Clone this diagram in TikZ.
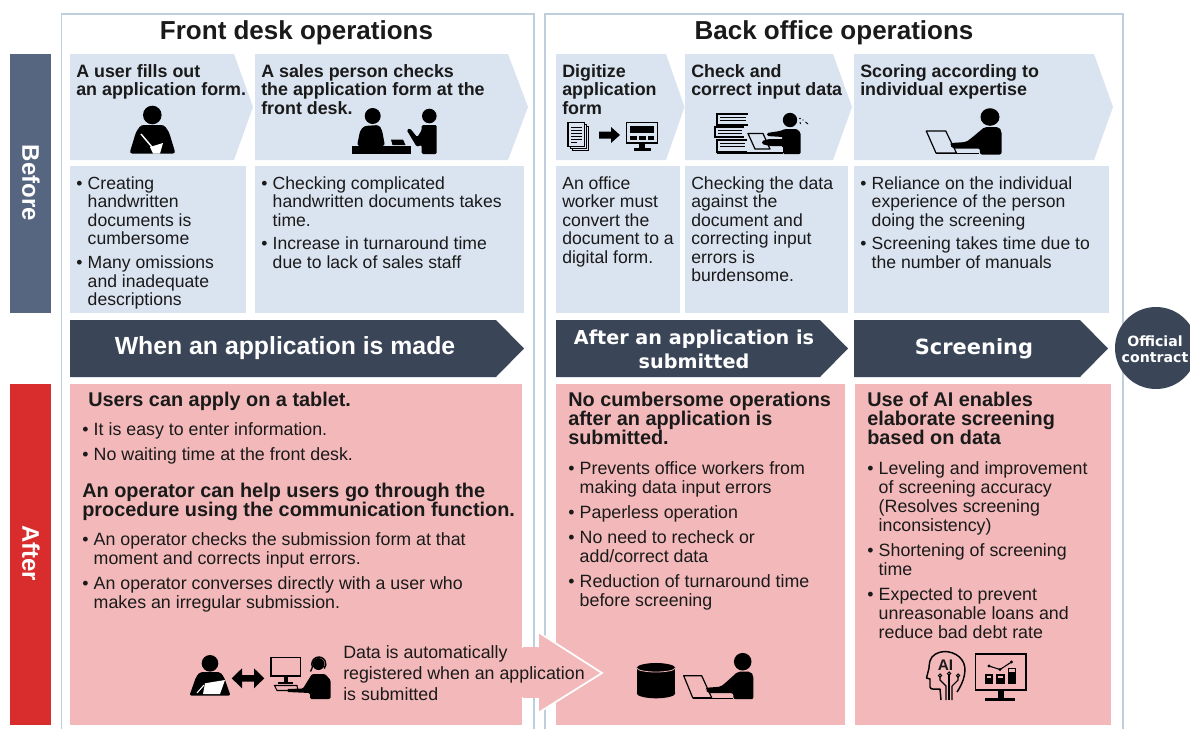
\documentclass[tikz,border=0pt]{standalone}
\usepackage{fontspec}
\setmainfont{Liberation Sans}
\newfontfamily\bandfont{DejaVu Sans}
\usetikzlibrary{arrows.meta}
\setlength{\lineskiplimit}{-6pt}
\setlength{\lineskip}{0pt}
\definecolor{panelline}{HTML}{BFCEDC}
\definecolor{lightblue}{HTML}{DAE3F0}
\definecolor{pinkpanel}{HTML}{F3B9BA}
\definecolor{darkband}{HTML}{3A4658}
\definecolor{sidegray}{HTML}{566580}
\definecolor{sidered}{HTML}{D92C2C}
\definecolor{inktext}{HTML}{1A1A1A}
\newlength{\bulind}\setlength{\bulind}{8.6pt}
\newcommand{\bl}[1]{\strut\makebox[\bulind][l]{•}#1}
\newcommand{\cl}[1]{\strut\hspace*{\bulind}#1}
\newcommand{\pl}[1]{\strut #1}
\newcommand{\laptopman}[4]{%
 \begin{scope}[shift={(#1,#2)},xscale=#3,yscale=#4]
  \fill (0,0) circle[radius=8.8];
  \fill[rounded corners=1.5] (-5,10)--(8,10)--(10.7,14)--(10.7,37.5)--(-9.3,37.5)--(-9.3,31.5)--(-35,31.5)--(-37,27.5)--(-36,26)--(-22,25)--(-16,20)--cycle;
  \draw[line width=.9pt,line join=round] (-59,14)--(-41,14)--(-31,36)--(-50,36)--cycle;
  \draw[line width=.9pt] (-50,36.5)--(-10,36.5);
 \end{scope}}
\tikzset{
 panel/.style={draw=panelline,line width=.8pt,fill=white},
 bluebox/.style={fill=lightblue},
 pinkbox/.style={fill=pinkpanel},
 bandshape/.style={fill=darkband},
 tb/.style={anchor=north west,inner sep=0pt,align=left,text=inktext,font=\fontsize{13.2}{13.9}\selectfont},
 tbb/.style={tb,font=\fontsize{13.4}{13.9}\selectfont\bfseries},
 ta/.style={tb,font=\fontsize{13.35}{14.2}\selectfont},
 tab/.style={tb,font=\fontsize{14.9}{14.2}\selectfont\bfseries},
 heading/.style={inner sep=0pt,font=\fontsize{19.5}{20}\selectfont\bfseries,text=inktext},
 bandtext/.style={inner sep=0pt,align=center,text=white,font=\fontsize{18.6}{18}\selectfont\bfseries},
 bandalt/.style={bandtext,font=\bandfont\fontsize{14.4}{18}\selectfont\bfseries},
 sidetext/.style={inner sep=0pt,rotate=-90,text=white,font=\fontsize{18}{18}\selectfont\bfseries},
}
\begin{document}
\begin{tikzpicture}[x=0.75pt,y=-0.75pt]
\useasboundingbox (0,0) rectangle (1190,729);
\fill[white] (0,0) rectangle (1190,729);
\begin{scope}
\clip (0,0) rectangle (1190,729);
% panels
\draw[panel] (61.5,14) rectangle (534,735);
\draw[panel] (545,14) rectangle (1123,735);
\node[heading] (h1) at (296.5,33) {Front desk operations};
\node[heading] (h2) at (834,33) {Back office operations};
% side bars
\fill[sidegray] (10,54) rectangle (51,313);
\fill[sidered] (10,384) rectangle (51,725);
\node[sidetext] (sb) at (31,183) {Before};
\node[sidetext] (sa) at (31,553) {After};
% chevrons
\fill[bluebox] (70,54)--(234,54)--(253,107)--(234,160)--(70,160)--cycle;
\fill[bluebox] (255,54)--(508,54)--(528,107)--(508,160)--(255,160)--cycle;
\fill[bluebox] (556,54)--(666,54)--(684.5,107)--(666,160)--(556,160)--cycle;
\fill[bluebox] (685,54)--(833,54)--(852,107)--(833,160)--(685,160)--cycle;
\fill[bluebox] (854,54)--(1094,54)--(1113,107)--(1094,160)--(854,160)--cycle;
\node[tbb] (c1) at (76,64) {\pl{A user fills out}\\\pl{an application form.}};
\node[tbb] (c2) at (261,64) {\pl{A sales person checks}\\\pl{the application form at the}\\\pl{front desk.}};
\node[tbb] (c3) at (562,64) {\pl{Digitize}\\\pl{application}\\\pl{form}};
\node[tbb] (c4) at (691,64) {\pl{Check and}\\\pl{correct input data}};
\node[tbb] (c5) at (860,64) {\pl{Scoring according to}\\\pl{individual expertise}};
% before boxes
\fill[bluebox] (70,166) rectangle (246,313);
\fill[bluebox] (255,166) rectangle (524,313);
\fill[bluebox] (556,166) rectangle (680,313);
\fill[bluebox] (685,166) rectangle (848,313);
\fill[bluebox] (854,166) rectangle (1109,313);
\node[tb] (b1) at (76,176) {\bl{Creating}\\\cl{handwritten}\\\cl{documents is}\\\cl{cumbersome}\\[3.9pt]\bl{Many omissions}\\\cl{and inadequate}\\\cl{descriptions}};
\node[tb] (b2) at (261,176) {\bl{Checking complicated}\\\cl{handwritten documents takes}\\\cl{time.}\\[3.6pt]\bl{Increase in turnaround time}\\\cl{due to lack of sales staff}};
\node[tb] (b3) at (562,176) {\pl{An office}\\\pl{worker must}\\\pl{convert the}\\\pl{document to a}\\\pl{digital form.}};
\node[tb] (b4) at (691,176) {\pl{Checking the data}\\\pl{against the}\\\pl{document and}\\\pl{correcting input}\\\pl{errors is}\\\pl{burdensome.}};
\node[tb] (b5) at (860,176) {\bl{Reliance on the individual}\\\cl{experience of the person}\\\cl{doing the screening}\\[3.6pt]\bl{Screening takes time due to}\\\cl{the number of manuals}};
% bands
\fill[bandshape] (70,320)--(496,320)--(524,348.5)--(496,377)--(70,377)--cycle;
\fill[bandshape] (556,320)--(820,320)--(848,348.5)--(820,377)--(556,377)--cycle;
\fill[bandshape] (854,320)--(1080,320)--(1108,348.5)--(1080,377)--(854,377)--cycle;
\node[bandtext] (w1) at (285,348) {When an application is made};
\node[bandalt] (w2) at (694,349) {After an application is\\submitted};
\node[bandalt,font=\bandfont\fontsize{15.7}{18}\selectfont\bfseries] (w3) at (974,348.5) {Screening};
\fill[darkband] (1156,348) circle[radius=41];
\node[bandalt,font=\bandfont\fontsize{10.6}{12.4}\selectfont\bfseries] (off) at (1155,349) {Official\\contract};
% pink panels
\fill[pinkbox] (70,384) rectangle (522,725);
\fill[pinkbox] (556,384) rectangle (845,725);
\fill[pinkbox] (855,384) rectangle (1111,725);
% big arrow
\fill[pinkbox] (523,647) rectangle (540,698);
\draw[white,line width=1.3pt,fill=pinkpanel,line join=miter] (538,647)--(538,632)--(602,673)--(538,713)--(538,698);
\fill[pinkbox] (520,647.6) rectangle (538.6,697.4);
% after text
\node[tab] (a1) at (88,392) {\pl{Users can apply on a tablet.}};
\node[ta] (a2) at (82,422) {\bl{It is easy to enter information.}\\[4.4pt]\bl{No waiting time at the front desk.}};
\node[tab] (a3) at (82,483) {\pl{An operator can help users go through the}\\\pl{procedure using the communication function.}};
\node[ta] (a4) at (82,532) {\bl{An operator checks the submission form at that}\\\cl{moment and corrects input errors.}\\[4.6pt]\bl{An operator converses directly with a user who}\\\cl{makes an irregular submission.}};
\node[ta] (a5) at (343,645) {\pl{Data is automatically}\\[1.5pt]\pl{registered when an application}\\[1.5pt]\pl{is submitted}};
\node[tab] (m1) at (568,392) {\pl{No cumbersome operations}\\\pl{after an application is}\\\pl{submitted.}};
\node[ta] (m2) at (568,461) {\bl{Prevents office workers from}\\\cl{making data input errors}\\[4.6pt]\bl{Paperless operation}\\[4.6pt]\bl{No need to recheck or}\\\cl{add/correct data}\\[4.6pt]\bl{Reduction of turnaround time}\\\cl{before screening}};
\node[tab] (r1) at (867,392) {\pl{Use of AI enables}\\\pl{elaborate screening}\\\pl{based on data}};
\node[ta] (r2) at (867,461) {\bl{Leveling and improvement}\\\cl{of screening accuracy}\\\cl{(Resolves screening}\\\cl{inconsistency)}\\[4.6pt]\bl{Shortening of screening}\\\cl{time}\\[4.6pt]\bl{Expected to prevent}\\\cl{unreasonable loans and}\\\cl{reduce bad debt rate}};
% --- icons ---
% user writing
\fill (152.3,115) circle[radius=9.3];
\fill[rounded corners=2] (141,125)--(164,125)--(169,132)--(175.5,153.5)--(129.5,153.5)--(136,132)--cycle;
\draw[white,line width=1.1pt] (141,134)--(152,147);
\fill[white] (150,147)--(163,143)--(160,153.5)--(153,153.5)--cycle;
% sales person
\fill (372.7,116) circle[radius=8];
\fill[rounded corners=2] (357,146)--(360,131)--(364,126)--(379,125)--(382,130)--(385,146)--cycle;
\fill (352.3,146) rectangle (410.7,154);
\fill (391,139.5)--(403,139.5)--(405.5,145)--(392.5,145)--cycle;
\fill (429.3,116) circle[radius=7.3];
\fill[rounded corners=1] (421.7,125)--(436.7,125)--(436.7,154)--(421.7,154)--(421.7,145)--(416.7,146.7)--(406.7,130)--(410,128.3)--(417.3,137.3)--(421.7,130)--cycle;
% digitize
\draw[line width=.7pt,fill=lightblue] (572,126) rectangle (588,150);
\draw[line width=.7pt,fill=lightblue] (570,124.5) rectangle (586,148);
\draw[line width=.8pt,fill=lightblue] (568,122.7) rectangle (584.5,146.5);
\foreach \yy in {127,130,133,136,139} \draw[line width=.7pt] (571,\yy)--(581.5,\yy);
\draw[line width=.7pt] (571,142)--(577,142);
\fill (599,131.5)--(611,131.5)--(611,127)--(620,135)--(611,143)--(611,138.5)--(599,138.5)--cycle;
\draw[line width=1.3pt] (626.5,122.5) rectangle (657.5,143);
\fill (630,125.5) rectangle (654,133);
\fill (630,135.5) rectangle (637,140);
\fill (639,135.5) rectangle (645.5,140);
\fill (647.5,135.5) rectangle (654,140);
\fill (639,143) rectangle (645,148);
\fill (634,148) rectangle (651,151);
% check & correct
\foreach \ya/\xa/\xb/\yb in {114/717/748/125,127/715/744/137,140/717/747/152}{
 \draw[line width=1pt] (\xb,\ya)--(\xa,\ya)--(\xa,\yb)--(\xb,\yb);
 \draw[line width=1pt] (\xa+3,\ya+3.5)--(\xb-2,\ya+3.5);
 \draw[line width=1pt] (\xa+3,\ya+6.5)--(\xb-2,\ya+6.5);
}
\draw[line width=.9pt,fill=lightblue,line join=round] (748,133.5)--(763,133.5)--(770,149)--(755,149)--cycle;
\draw[line width=1.2pt] (717,152.8)--(783,152.8);
\fill (790,120) circle[radius=7.2];
\fill[rounded corners=1] (785,129)--(797,129)--(800.7,133)--(800.7,154)--(783,154)--(783,146)--(770,146)--(762,144)--(762,141)--(769,139)--(783,139)--(783,137)--(767,136)--(767,133)--(780,131)--cycle;
\fill (800,118.5) circle[radius=.8];
\fill (803,120) circle[radius=.6];
\draw[line width=.7pt] (805.5,122)--(808,124);
\draw[line width=.7pt] (800,122)--(800.5,124);
% scoring
\laptopman{990}{117}{1.08}{1}
% front-left person
\fill (210,663.3) circle[radius=8.3];
\fill[rounded corners=1.5] (200,672)--(220,672)--(224,677)--(230.5,695.5)--(189.5,695.5)--(196,677)--cycle;
\fill[white] (205,683.3)--(225,680)--(220,694)--(203,694)--cycle;
\draw[white,line width=.8pt] (197,693)--(204,685);
% double arrow
\fill (231.7,678.3)--(242,668.3)--(242,675)--(254,675)--(254,668.3)--(264.3,678.3)--(254,688.3)--(254,681.6)--(242,681.6)--(242,688.3)--cycle;
% operator monitor
\draw[line width=1.1pt] (271,657.6) rectangle (300.5,676);
\fill (284,676) rectangle (287.5,681.7);
\fill (278,681.7) rectangle (293,683.5);
\draw[line width=.8pt,fill=pinkpanel] (274.5,685.5)--(297,685.5)--(298,690.5)--(277,690.5)--cycle;
\fill (318.5,664) circle[radius=6];
\draw[line width=1.1pt] (312.5,667) arc[start angle=-205,end angle=40,radius=7];
\draw[line width=1pt] (313,666)--(310.5,671.5);
\fill[rounded corners=1] (312,674)--(325,674)--(330.5,680)--(330.5,699)--(310,699)--(310,693)--(287,692)--(287,689)--(303,688.5)--(307,682)--cycle;
% db
\fill (636.7,668) rectangle (675.3,693);
\fill (656,668) ellipse[x radius=19.3,y radius=5];
\fill (656,693.3) ellipse[x radius=19.3,y radius=5];
\draw[pinkpanel,line width=.6pt] (636.9,668) arc[start angle=180,end angle=0,x radius=19.1,y radius=4];
\laptopman{742.7}{661.7}{1}{1}
% AI head
\draw[line width=1.1pt,line join=round] (957,692) .. controls (964,682) and (968,668) .. (962,660) .. controls (956,651) and (940,648) .. (932,657) .. controls (928,662) and (930,668) .. (928,672) -- (926.5,678) -- (930,679) -- (930,687) .. controls (930,690) and (936,689) .. (940,689) -- (941,700);
\node[inner sep=0pt,font=\fontsize{11.5}{12}\selectfont\bfseries,text=inktext] (ai) at (945.5,665.5) {AI};
\draw[line width=.8pt] (946,700)--(946,686)--(940,680)--(940,677);
\draw[line width=.8pt] (949,700)--(949,675);
\draw[line width=.8pt] (952,700)--(952,686)--(958,680)--(958,677);
\draw[line width=.7pt] (940,675.5) circle[radius=1.6];
\draw[line width=.7pt] (949,673.5) circle[radius=1.6];
\draw[line width=.7pt] (958,675.5) circle[radius=1.6];
% chart monitor
\draw[line width=1.4pt] (975.5,654) rectangle (1026,690);
\fill (997.5,690) rectangle (1003.5,698);
\fill (985,698) rectangle (1015,701);
\draw[line width=.9pt] (986,675)--(992,675)--(992,683)--(986,683)--cycle;
\fill (986,678) rectangle (992,683);
\draw[line width=.9pt] (997,675)--(1004,675)--(1004,683)--(997,683)--cycle;
\fill (997,678) rectangle (1004,683);
\draw[line width=.9pt] (1008.5,668.5)--(1015.5,668.5)--(1015.5,683)--(1008.5,683)--cycle;
\fill (1008.5,672) rectangle (1015.5,683);
\draw[line width=.8pt] (989,666)--(1000,669.5)--(1011.5,662);
\fill (989,666) circle[radius=1.7];
\fill (1000,669.5) circle[radius=1.7];
\fill (1011.5,662) circle[radius=1.7];
\end{scope}
\end{tikzpicture}
\end{document}
